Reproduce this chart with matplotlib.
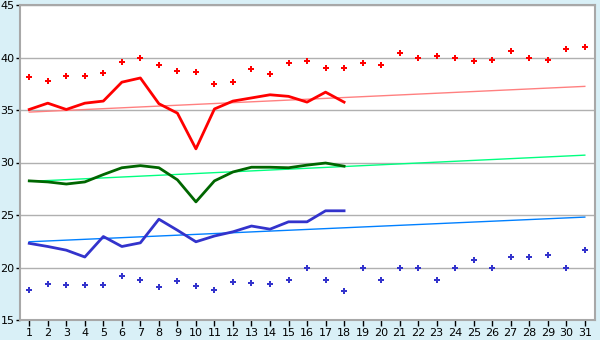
import numpy as np
import matplotlib
matplotlib.use("Agg")
import matplotlib.pyplot as plt

days = list(range(1, 32))
line_days = list(range(1, 19))

red_line = [35.05, 35.65, 35.05, 35.65, 35.85, 37.65, 38.05, 35.6, 34.7, 31.3,
            35.1, 35.85, 36.15, 36.45, 36.3, 35.75, 36.7, 35.75]
red_points = [38.1, 37.8, 38.2, 38.2, 38.5, 39.6, 40.0, 39.3, 38.7, 38.6,
              37.5, 37.7, 38.9, 38.4, 39.5, 39.7, 39.0, 39.0, 39.5, 39.3,
              40.4, 40.0, 40.1, 40.0, 39.7, 39.8, 40.6, 40.0, 39.8, 40.8, 41.0]
green_line = [28.25, 28.15, 27.95, 28.15, 28.85, 29.5, 29.7, 29.5, 28.35, 26.25,
              28.25, 29.1, 29.55, 29.55, 29.5, 29.75, 29.95, 29.65]
blue_line = [22.3, 22.0, 21.65, 21.0, 22.95, 22.0, 22.35, 24.6, 23.55, 22.45,
             23.0, 23.4, 23.95, 23.65, 24.35, 24.35, 25.4, 25.4]
blue_points = [17.9, 18.4, 18.3, 18.3, 18.3, 19.15, 18.85, 18.1, 18.7, 18.2,
               17.9, 18.6, 18.5, 18.4, 18.85, 20.0, 18.85, 17.8, 20.0, 18.85,
               20.0, 20.0, 18.85, 20.0, 20.7, 20.0, 21.0, 21.0, 21.2, 20.0, 21.65]

# trend lines (start/end values)
trend_days = [1, 31]
red_trend = [34.8, 37.25]
green_trend = [28.2, 30.7]
blue_trend = [22.45, 24.8]

y_ticks = [15, 20, 25, 30, 35, 40, 45]

fig = plt.figure(figsize=(6, 3.4), dpi=100)
fig.patch.set_facecolor('#D9F0F7')
ax = fig.add_axes([20/600, 1-320/340, 575/600, 315/340])
ax.set_facecolor('white')

ax.plot(trend_days, red_trend, color='#FF8080', lw=1)
ax.plot(trend_days, green_trend, color='#00FF80', lw=1)
ax.plot(trend_days, blue_trend, color='#0080FF', lw=1)

ax.plot(line_days, red_line, color='#FF0000', lw=2)
ax.plot(line_days, green_line, color='#006600', lw=2)
ax.plot(line_days, blue_line, color='#3333CC', lw=2)

ax.plot(days, red_points, ls='none', marker='P', ms=4.5, color='#FF0000', mew=0)
ax.plot(days, blue_points, ls='none', marker='P', ms=4.5, color='#3333CC', mew=0)

ax.set_xlim(0.5, 31.55)
ax.set_ylim(15, 45)
ax.set_xticks(days)
ax.set_yticks(y_ticks)
ax.grid(axis='y', color='#B0B0B0', lw=1)
ax.set_axisbelow(True)
for s in ax.spines.values():
    s.set_color('#A8A8A8')
    s.set_linewidth(1.5)
ax.tick_params(axis='x', direction='out', length=4, width=1, color='black',
               labelsize=8, pad=2)
ax.tick_params(axis='y', direction='out', length=3, width=1, color='black',
               labelsize=8, pad=1)

fig.savefig('out.png', dpi=100, facecolor=fig.get_facecolor())
